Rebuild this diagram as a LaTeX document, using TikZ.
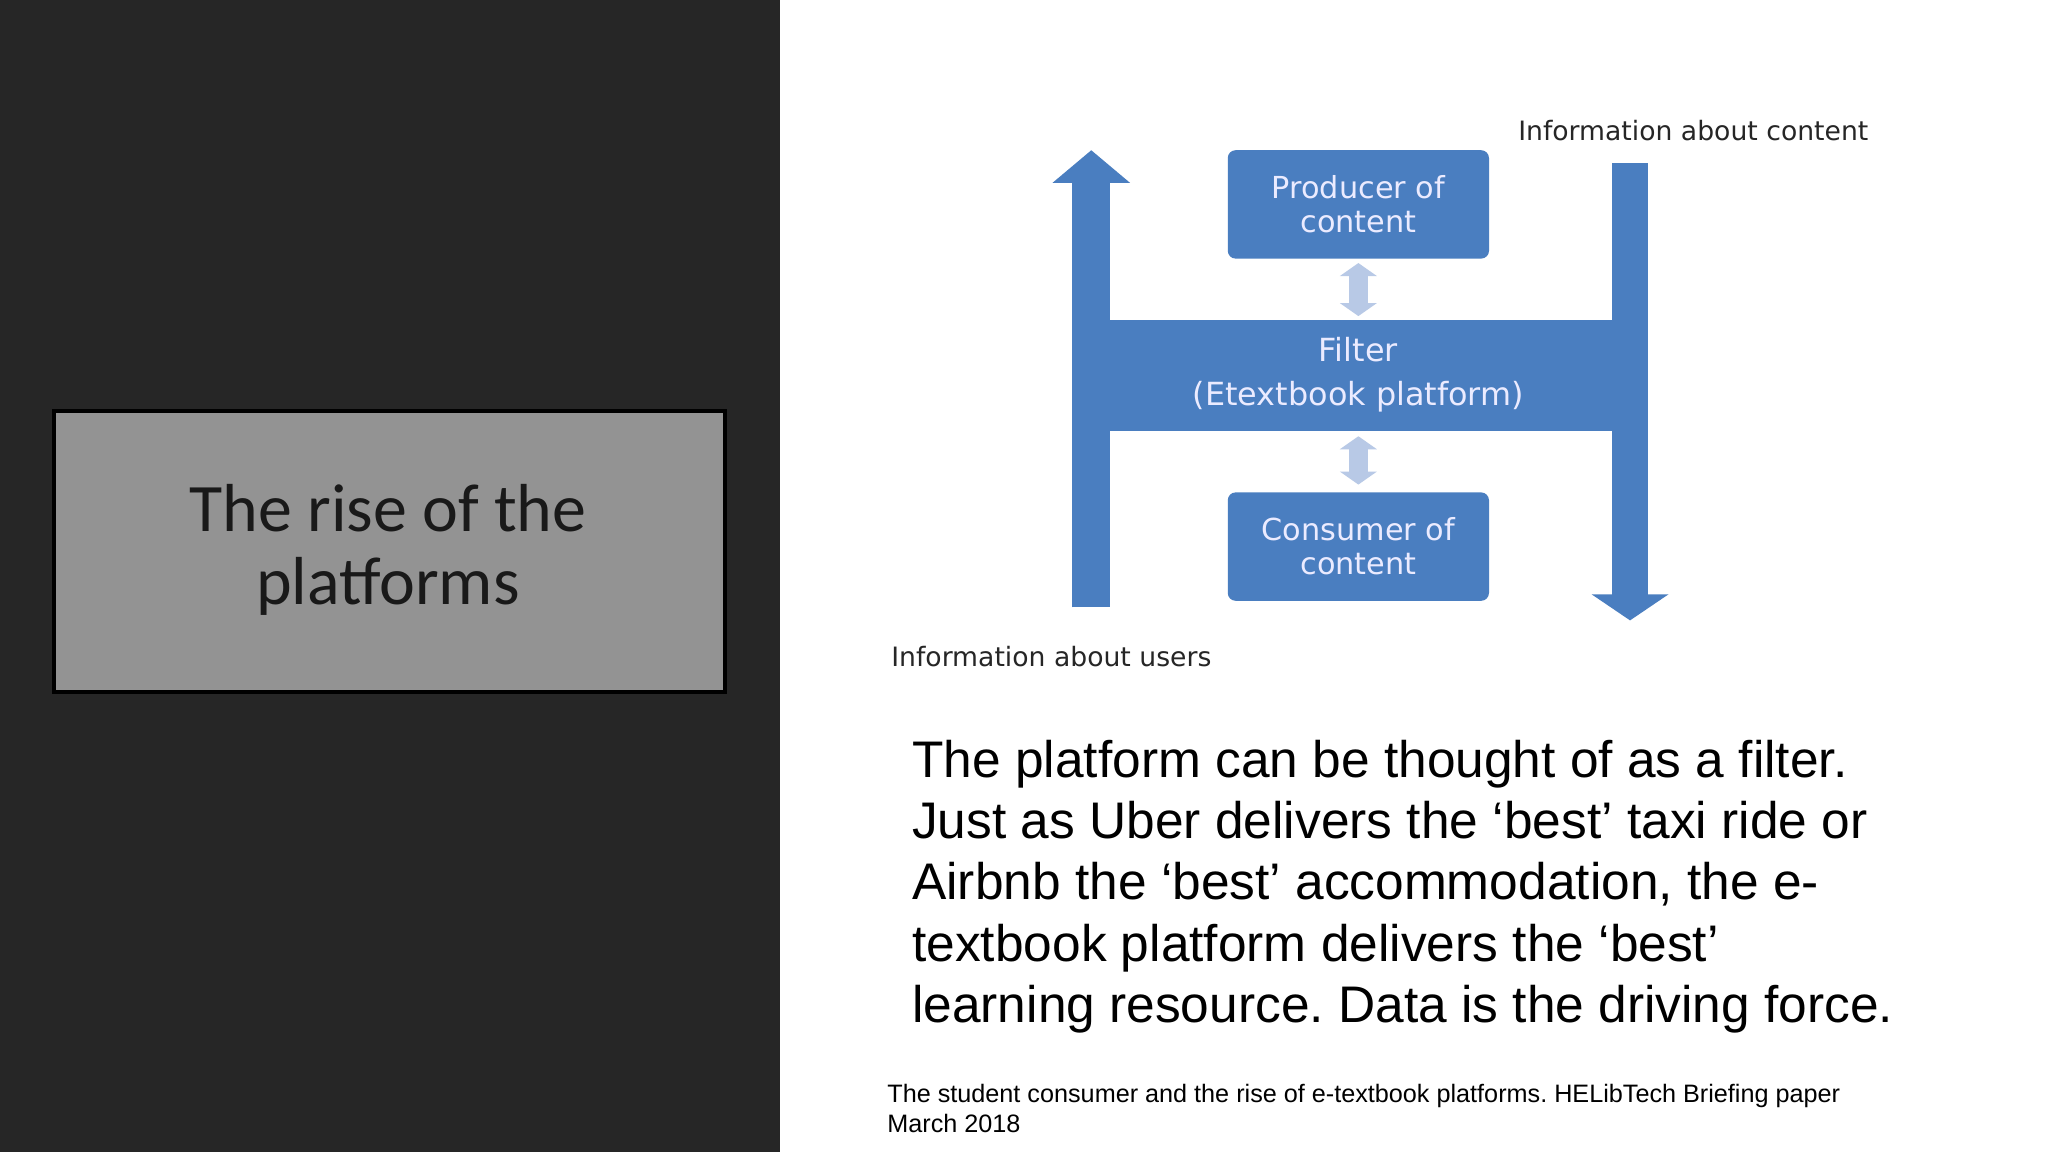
\documentclass[tikz,border=0pt]{standalone}
\usepackage{fontspec}
\setmainfont{Liberation Sans}
\newfontfamily\calib{Carlito}
\newfontfamily\dvs{DejaVu Sans}
\usetikzlibrary{arrows.meta}
\definecolor{dark}{HTML}{262626}
\definecolor{gbox}{HTML}{939393}
\definecolor{pblue}{HTML}{4A7EC0}
\definecolor{lblue}{HTML}{B8C9E6}
\frenchspacing
\begin{document}
\begin{tikzpicture}[x=0.5pt,y=-0.5pt,
  bluebox/.style={fill=pblue,rounded corners=3pt,minimum width=100pt,minimum height=41.5pt,text=white!92!blue,align=center,font=\dvs\fontsize{11.6}{13}\selectfont,inner sep=0pt},
  smalllab/.style={font=\dvs\fontsize{10.2}{11}\selectfont,text=black!85,inner sep=0pt},
  dbl/.style={lblue,line width=7pt,{Triangle[width=14pt,length=5pt]}-{Triangle[width=14pt,length=5pt]}}]
\useasboundingbox (0,0) rectangle (1568,882);
\fill[white] (0,0) rectangle (1568,882);
\fill[dark] (0,0) rectangle (597,882);
\node[draw=black,line width=1.5pt,fill=gbox,minimum width=257pt,minimum height=107.5pt,inner sep=0pt] (title) at (298,422.5) {};
\node[align=center,font=\calib\fontsize{26}{28}\selectfont,text=black!90] (tt) at (297,421) {The rise of the\\platforms};
% filter band
\fill[pblue] (850,245) rectangle (1234,330);
\node[text=white!92!blue,font=\dvs\fontsize{12.2}{13}\selectfont] (f1) at (1040,268) {Filter};
\node[text=white!92!blue,font=\dvs\fontsize{12.2}{13}\selectfont] (f2) at (1040,304) {(Etextbook platform)};
% arrows
\coordinate (ua) at (835.5,465); \coordinate (ub) at (835.5,115);
\draw[pblue,line width=14.5pt,-{Triangle[width=29pt,length=12.5pt]}] (ua) -- (ub);
\coordinate (da) at (1248,125); \coordinate (db) at (1248,475);
\draw[pblue,line width=14pt,-{Triangle[width=29pt,length=10pt]}] (da) -- (db);
\node[bluebox] (prod) at (1040,156.5) {Producer of\\content};
\node[bluebox] (cons) at (1040,418.5) {Consumer of\\content};
\draw[dbl] (prod.south) ++(0,3) coordinate (p1) -- (1040,242);
\draw[dbl] (1040,334) -- (1040,371);
\node[smalllab,anchor=west] (ic) at (1162,100) {Information about content};
\node[smalllab,anchor=west] (iu) at (682,503) {Information about users};
\node[anchor=north west,align=left,inner sep=0pt,font=\fontsize{19.7}{23.5}\selectfont] (body) at (698,566) {The platform can be thought of as a filter.\\Just as Uber delivers the ‘best’ taxi ride or\\Airbnb the ‘best’ accommodation, the e-\\textbook platform delivers the ‘best’\\learning resource. Data is the driving force.};
\node[anchor=north west,align=left,inner sep=0pt,font=\fontsize{9.65}{11.5}\selectfont] (ref) at (679,830) {The student consumer and the rise of e-textbook platforms. HELibTech Briefing paper\\March 2018};
\end{tikzpicture}
\end{document}
